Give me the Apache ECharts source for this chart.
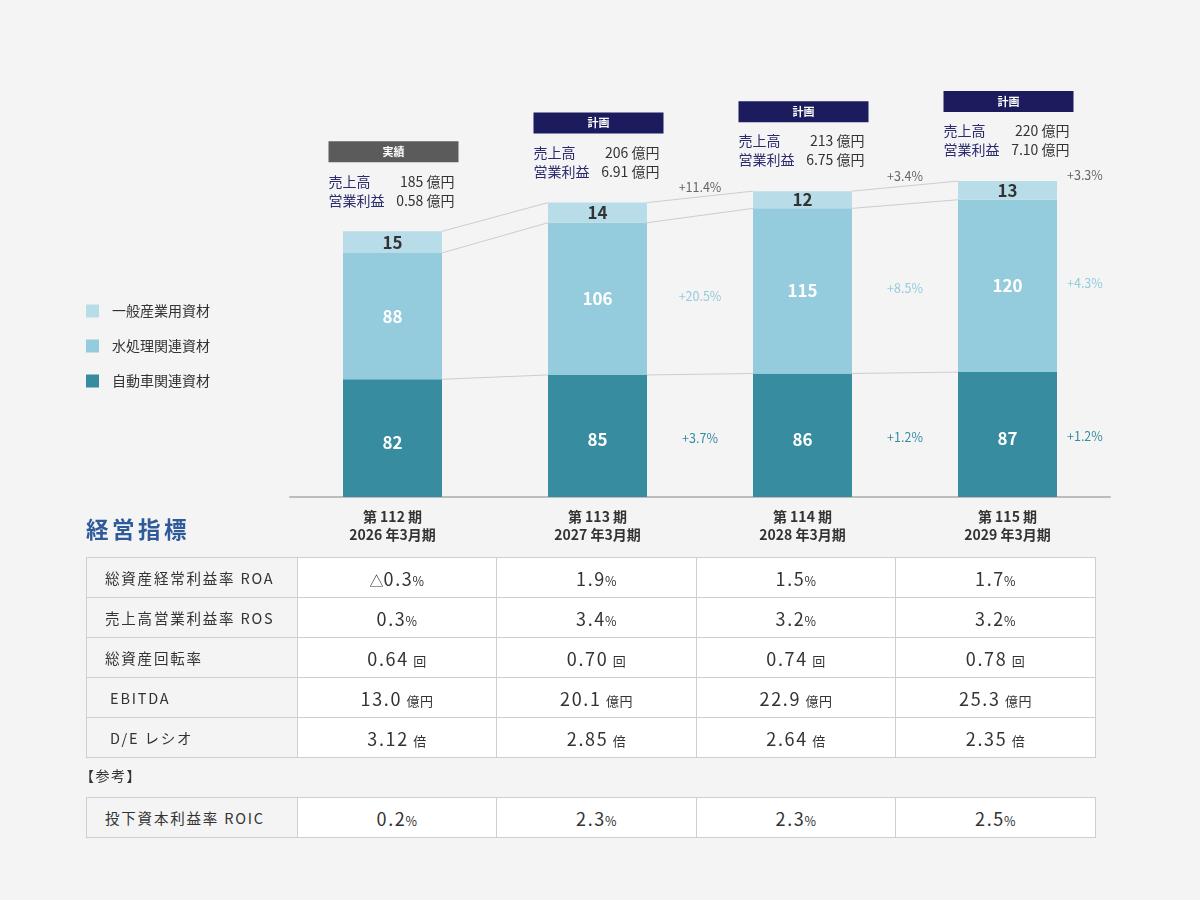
<!DOCTYPE html>
<html lang="ja">
<head>
<meta charset="utf-8">
<script src="https://cdn.jsdelivr.net/npm/echarts@6/dist/echarts.min.js"></script>
<style>
  html, body { margin:0; padding:0; background:#f4f4f4; }
  body { width:1200px; height:900px; position:relative; overflow:hidden;
         font-family:"Noto Sans CJK JP","Noto Sans",sans-serif; color:#333; }
  #chart { position:absolute; left:0; top:0; width:1200px; height:900px; }
  .heading { position:absolute; left:86px; top:510px; font-size:22.5px; font-weight:bold;
             color:#2f5b9a; letter-spacing:3.5px; line-height:36px; }
  table.kpi { position:absolute; left:86px; border-collapse:collapse; table-layout:fixed; width:1010px; }
  table.kpi td { border:1px solid #cfcfcf; height:39px; padding:0; }
  table.kpi td.lab { background:#f4f4f4; padding-left:18px; font-size:14.5px; letter-spacing:1.8px; color:#333; }
  table.kpi td.val { background:#fff; text-align:center; color:#333; }
  .num { font-size:18px; letter-spacing:1.6px; }
  .unit { font-size:13px; margin-left:1px; letter-spacing:0.5px; }
  .unit.pct { margin-left:-1px; font-size:12.5px; }
  .ref { position:absolute; left:80px; top:764px; font-size:14px; letter-spacing:1.5px; line-height:22px; }
</style>
</head>
<body>
<div id="chart"></div>
<div class="heading" id="heading"></div>
<table class="kpi" id="kpi1" style="top:557px"></table>
<div class="ref">【参考】</div>
<table class="kpi" id="kpi2" style="top:797px"></table>
<script>
// ---------- data ----------
const categories = ['第 112 期\n2026 年3月期', '第 113 期\n2027 年3月期', '第 114 期\n2028 年3月期', '第 115 期\n2029 年3月期'];
const autoVals = [82, 85, 86, 87];
const waterVals = [88, 106, 115, 120];
const generalVals = [15, 14, 12, 13];
const seriesNames = ['自動車関連資材', '水処理関連資材', '一般産業用資材'];
const statusLabels = ['実績', '計画', '計画', '計画'];
const salesVals = ['185', '206', '213', '220'];
const opProfitVals = ['0.58', '6.91', '6.75', '7.10'];
const totalChange = ['', '+11.4%', '+3.4%', '+3.3%'];
const waterChange = ['', '+20.5%', '+8.5%', '+4.3%'];
const autoChange = ['', '+3.7%', '+1.2%', '+1.2%'];

const headingText = '経営指標';
const kpiLabels = ['総資産経常利益率 ROA', '売上高営業利益率 ROS', '総資産回転率', ' EBITDA', ' D/E レシオ'];
const kpiUnits = ['%', '%', '回', '億円', '倍'];
const roaVals = ['△0.3', '1.9', '1.5', '1.7'];
const rosVals = ['0.3', '3.4', '3.2', '3.2'];
const turnoverVals = ['0.64', '0.70', '0.74', '0.78'];
const ebitdaVals = ['13.0', '20.1', '22.9', '25.3'];
const deVals = ['3.12', '2.85', '2.64', '2.35'];
const roicLabel = '投下資本利益率 ROIC';
const roicVals = ['0.2', '2.3', '2.3', '2.5'];

// ---------- colours ----------
const C_GENERAL = '#b8dde8', C_WATER = '#94cbdd', C_AUTO = '#378ca0';
const BAR_W = 99;

const totals = autoVals.map((v, i) => v + waterVals[i] + generalVals[i]);
const cumLevels = autoVals.map((v, i) => [v, v + waterVals[i], totals[i]]);

// ---------- chart ----------
const chart = echarts.init(document.getElementById('chart'), null, { renderer: 'canvas' });
const FONT = '"Noto Sans CJK JP","Noto Sans",sans-serif';

function connectorItem(params, api) {
  const i = params.dataIndex;
  if (i >= categories.length - 1) return null;
  const children = cumLevels[i].map((lv, k) => {
    const p1 = api.coord([i, lv]);
    const p2 = api.coord([i + 1, cumLevels[i + 1][k]]);
    return { type: 'line', shape: { x1: p1[0] + BAR_W / 2, y1: p1[1], x2: p2[0] - BAR_W / 2, y2: p2[1] },
             style: { stroke: '#cdcdcd', lineWidth: 1 } };
  });
  return { type: 'group', children };
}

function changeItem(params, api) {
  const i = params.dataIndex;
  if (i === 0) return null;
  const band = api.size([1, 0])[0];
  const c = api.coord([i, 0]);
  const last = i === categories.length - 1;
  const x = last ? c[0] + BAR_W / 2 + 10 : c[0] + band / 2;
  const align = last ? 'left' : 'center';
  const yTop = api.coord([i, totals[i]])[1];
  const yTotal = last ? yTop - 6 : (yTop + api.coord([i + 1, totals[i + 1]])[1]) / 2 - 10;
  const yWater = api.coord([i, autoVals[i] + waterVals[i] / 2])[1] - 3;
  const yAuto = api.coord([i, autoVals[i] / 2])[1] + 2;
  const mk = (txt, y, col) => ({ type: 'text', x, y,
     style: { text: txt, fill: col, font: '12.5px ' + FONT, textAlign: align, textVerticalAlign: 'middle' } });
  return { type: 'group', children: [
    mk(totalChange[i], yTotal, '#666'),
    mk(waterChange[i], yWater, C_WATER),
    mk(autoChange[i], yAuto, C_AUTO)
  ]};
}

function annotationItem(params, api) {
  const i = params.dataIndex;
  const top = api.coord([i, totals[i]]);
  const cx = top[0] + 1;
  const left = cx - 65, right = cx + 65;
  const y0 = top[1];
  return { type: 'group', children: [
    { type: 'rect', shape: { x: left, y: y0 - 90, width: 130, height: 21 },
      style: { fill: i === 0 ? '#5b5b5b' : '#1b1b5e' } },
    { type: 'text', x: cx, y: y0 - 79.5,
      style: { text: statusLabels[i], fill: '#fff', font: 'bold 11px ' + FONT, textAlign: 'center', textVerticalAlign: 'middle' } },
    { type: 'text', x: left, y: y0 - 50,
      style: { text: '売上高', fill: '#2a2a6e', font: '14px ' + FONT, textAlign: 'left', textVerticalAlign: 'middle' } },
    { type: 'text', x: right - 4, y: y0 - 50,
      style: { text: salesVals[i] + ' 億円', fill: '#333', font: '14px ' + FONT, textAlign: 'right', textVerticalAlign: 'middle' } },
    { type: 'text', x: left, y: y0 - 31,
      style: { text: '営業利益', fill: '#2a2a6e', font: '14px ' + FONT, textAlign: 'left', textVerticalAlign: 'middle' } },
    { type: 'text', x: right - 4, y: y0 - 31,
      style: { text: opProfitVals[i] + ' 億円', fill: '#333', font: '14px ' + FONT, textAlign: 'right', textVerticalAlign: 'middle' } }
  ]};
}

const idx = categories.map((c, i) => [i, totals[i]]);

chart.setOption({
  backgroundColor: '#f4f4f4',
  textStyle: { fontFamily: FONT },
  animation: false,
  legend: {
    data: [seriesNames[2], seriesNames[1], seriesNames[0]],
    orient: 'vertical', left: 81, top: 299, icon: 'rect',
    itemWidth: 13, itemHeight: 13, itemGap: 21,
    textStyle: { fontSize: 14, color: '#333', padding: [0, 0, 0, 8] },
    selectedMode: false
  },
  grid: { left: 290, width: 820, top: 138, bottom: 403 },
  xAxis: {
    type: 'category', data: categories,
    axisLine: { lineStyle: { color: '#bdbdbd', width: 2 } },
    axisTick: { show: false },
    axisLabel: { fontSize: 14, fontWeight: 'bold', color: '#333', lineHeight: 18, margin: 11 }
  },
  yAxis: { type: 'value', min: 0, max: 250, show: false, splitLine: { show: false } },
  series: [
    { name: seriesNames[0], type: 'bar', stack: 'sales', barWidth: BAR_W, data: autoVals,
      itemStyle: { color: C_AUTO },
      label: { show: true, position: 'inside', color: '#fff', fontSize: 17, fontWeight: 'bold', offset: [0, 4] } },
    { name: seriesNames[1], type: 'bar', stack: 'sales', barWidth: BAR_W, data: waterVals,
      itemStyle: { color: C_WATER },
      label: { show: true, position: 'inside', color: '#fff', fontSize: 17, fontWeight: 'bold' } },
    { name: seriesNames[2], type: 'bar', stack: 'sales', barWidth: BAR_W, data: generalVals,
      itemStyle: { color: C_GENERAL },
      label: { show: true, position: 'inside', color: '#333', fontSize: 17, fontWeight: 'bold' } },
    { type: 'custom', name: 'connectors', data: idx, renderItem: connectorItem, silent: true, z: 1 },
    { type: 'custom', name: 'changes', data: idx, renderItem: changeItem, silent: true, z: 3 },
    { type: 'custom', name: 'annotations', data: idx, renderItem: annotationItem, silent: true, z: 3 }
  ]
});

// ---------- table ----------
document.getElementById('heading').textContent = headingText;
function buildRows(tbl, labels, valueSets, units) {
  const colg = '<colgroup><col style="width:211px"><col style="width:199px"><col style="width:200px"><col style="width:199px"><col style="width:200px"></colgroup>';
  let html = colg;
  labels.forEach((lab, r) => {
    html += '<tr><td class="lab">' + lab.replace(/^ /, '&nbsp;') + '</td>';
    valueSets[r].forEach(v => {
      const u = units[r];
      html += '<td class="val"><span class="num">' + v.replace('△', '<span style="font-size:14px;letter-spacing:0">△</span>') +
              '</span><span class="unit' + (u === '%' ? ' pct' : '') + '">' + (u === '%' ? '' : ' ') + u + '</span></td>';
    });
    html += '</tr>';
  });
  tbl.innerHTML = html;
}
buildRows(document.getElementById('kpi1'), kpiLabels, [roaVals, rosVals, turnoverVals, ebitdaVals, deVals], kpiUnits);
buildRows(document.getElementById('kpi2'), [roicLabel], [roicVals], ['%']);
</script>
</body>
</html>
